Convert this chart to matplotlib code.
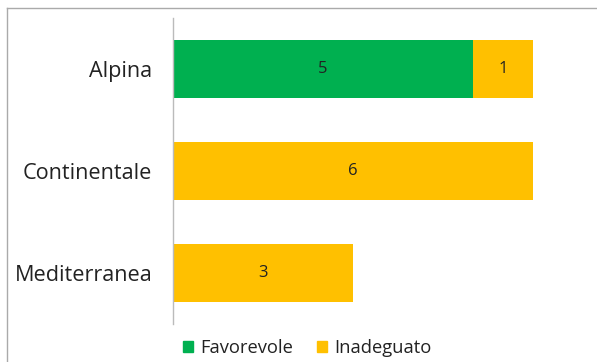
import matplotlib
matplotlib.use("Agg")
import matplotlib.pyplot as plt
from matplotlib.lines import Line2D
from matplotlib.patches import Patch

categories = ["Alpina", "Continentale", "Mediterranea"]
favorevole = [5, 0, 0]
inadeguato = [1, 6, 3]
series_names = ["Favorevole", "Inadeguato"]
colors = ["#00B050", "#FFC000"]

plt.rcParams['font.family'] = ['Open Sans', 'DejaVu Sans']

fig = plt.figure(figsize=(5.97, 3.62), dpi=100)
ax = fig.add_axes([173/597, 1-324/362, (533-173)/597, (324-18)/362])

y = list(range(len(categories)))
ax.barh(y, favorevole, height=0.56, color=colors[0])
ax.barh(y, inadeguato, left=favorevole, height=0.56, color=colors[1])
for i in y:
    if favorevole[i] > 0:
        ax.text(favorevole[i]/2, i, str(favorevole[i]), ha='center', va='center', fontsize=12, color='#222222')
    if inadeguato[i] > 0:
        ax.text(favorevole[i] + inadeguato[i]/2, i, str(inadeguato[i]), ha='center', va='center', fontsize=12, color='#222222')

ax.set_ylim(2.5, -0.5)
ax.set_xlim(0, 6)
ax.set_yticks(y)
ax.set_yticklabels(categories, fontsize=15.6, color='#222222')
ax.tick_params(axis='y', length=0, pad=15)
ax.set_xticks([])
for s in ['top', 'right', 'bottom']:
    ax.spines[s].set_visible(False)
ax.spines['left'].set_color('#BBBBBB')
ax.spines['left'].set_linewidth(1)

handles = [Patch(color=colors[0]), Patch(color=colors[1])]
fig.legend(handles, series_names, loc='center', bbox_to_anchor=(307/597, 1-348/362),
           ncol=2, frameon=False, fontsize=13.2, handlelength=0.55, handleheight=0.55,
           handletextpad=0.4, columnspacing=1.3, labelcolor='#222222')

# border (top and left)
fig.add_artist(Line2D([7/597, 1], [1-8/362, 1-8/362], color='#AAAAAA', lw=1, transform=fig.transFigure))
fig.add_artist(Line2D([7/597, 7/597], [0, 1-8/362], color='#AAAAAA', lw=1, transform=fig.transFigure))

fig.savefig("out.png", dpi=100)
